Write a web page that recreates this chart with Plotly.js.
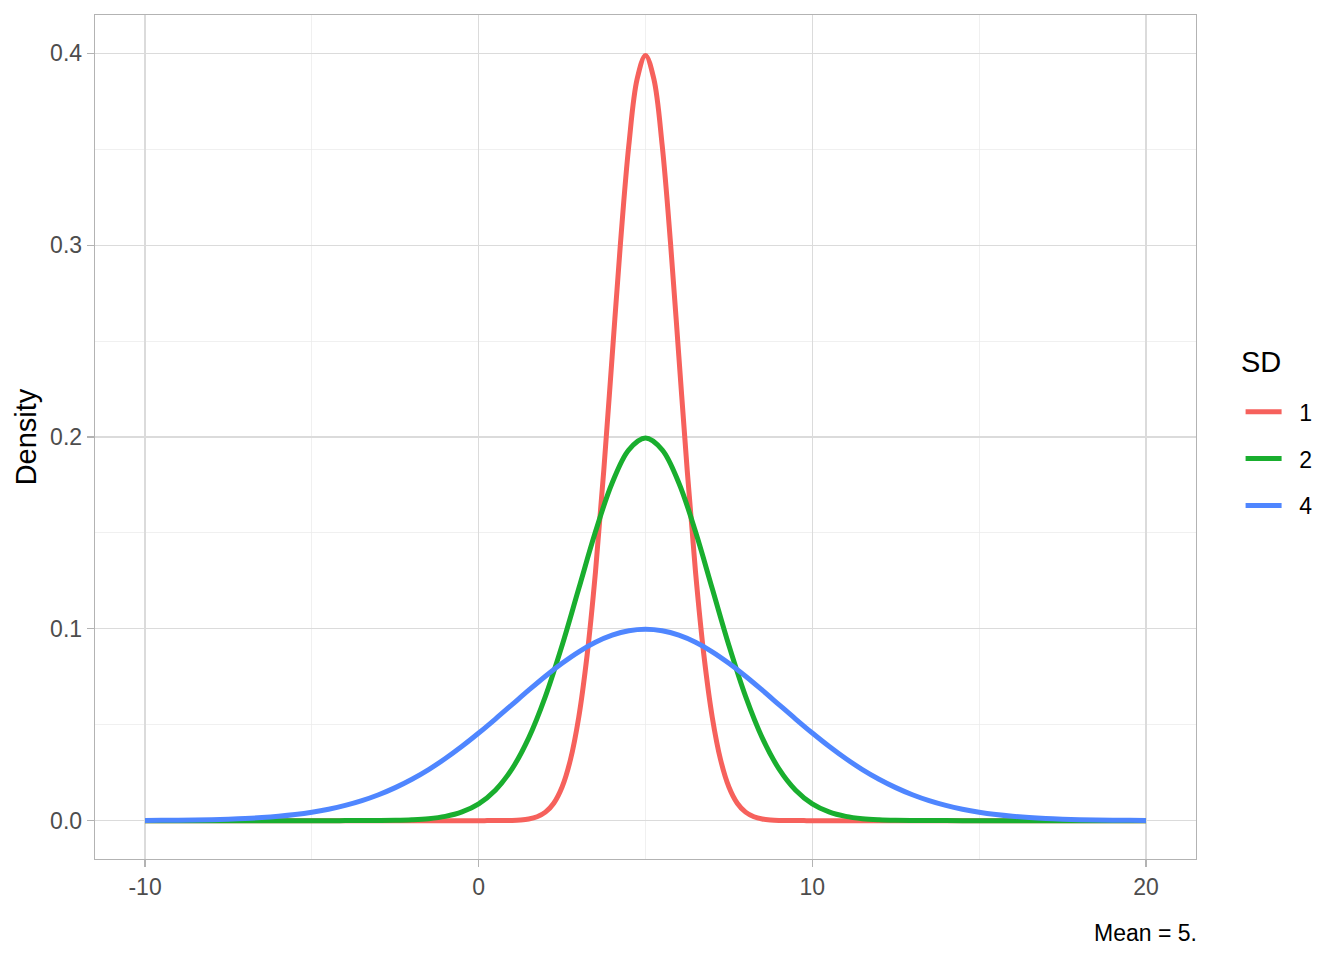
<!DOCTYPE html>
<html>
<head>
<meta charset="utf-8">
<script src="https://cdn.plot.ly/plotly-3.0.1.min.js"></script>
<style>
  html, body { margin: 0; padding: 0; background: #ffffff; }
  #chart { width: 1344px; height: 960px; }
</style>
</head>
<body>
<div id="chart"></div>
<script>
// x positions for the SD = 2 and SD = 4 series
const xValues = [
  -10, -9.5, -9, -8.5, -8, -7.5, -7, -6.5, -6, -5.5,
  -5, -4.5, -4, -3.5, -3, -2.5, -2, -1.5, -1, -0.5,
  0, 0.5, 1, 1.5, 2, 2.5, 3, 3.5, 4, 4.5,
  5, 5.5, 6, 6.5, 7, 7.5, 8, 8.5, 9, 9.5,
  10, 10.5, 11, 11.5, 12, 12.5, 13, 13.5, 14, 14.5,
  15, 15.5, 16, 16.5, 17, 17.5, 18, 18.5, 19, 19.5,
  20
];

// x positions for the narrow SD = 1 series (finer near the peak)
const xValuesSD1 = [
  -10, -5,
  0, 0.25, 0.5, 0.75, 1, 1.25, 1.5, 1.75, 2, 2.25,
  2.5, 2.75, 3, 3.25, 3.5, 3.75, 4, 4.25, 4.5, 4.75,
  5, 5.25, 5.5, 5.75, 6, 6.25, 6.5, 6.75, 7, 7.25,
  7.5, 7.75, 8, 8.25, 8.5, 8.75, 9, 9.25, 9.5, 9.75,
  10,
  15, 20
];

// SD = 1
const densitySD1 = [
  0, 0,
  0, 0.00001, 0.00002, 0.00005, 0.00013, 0.00035, 0.00087, 0.00203, 0.00443, 0.00909,
  0.01753, 0.03174, 0.05399, 0.08628, 0.12952, 0.18265, 0.24197, 0.30114, 0.35207, 0.38667,
  0.39894, 0.38667, 0.35207, 0.30114, 0.24197, 0.18265, 0.12952, 0.08628, 0.05399, 0.03174,
  0.01753, 0.00909, 0.00443, 0.00203, 0.00087, 0.00035, 0.00013, 0.00005, 0.00002, 0.00001,
  0,
  0, 0
];

// SD = 2
const densitySD2 = [
  0, 0, 0, 0, 0, 0, 0, 0, 0, 0,
  0, 0, 0.00001, 0.00002, 0.00007, 0.00018, 0.00044, 0.00101, 0.00222, 0.00455,
  0.00876, 0.01587, 0.02700, 0.04314, 0.06476, 0.09132, 0.12099, 0.15057, 0.17603, 0.19333,
  0.19947, 0.19333, 0.17603, 0.15057, 0.12099, 0.09132, 0.06476, 0.04314, 0.02700, 0.01587,
  0.00876, 0.00455, 0.00222, 0.00101, 0.00044, 0.00018, 0.00007, 0.00002, 0.00001, 0,
  0, 0, 0, 0, 0, 0, 0, 0, 0, 0,
  0
];

// SD = 4
const densitySD4 = [
  0.00009, 0.00014, 0.00022, 0.00034, 0.00051, 0.00076, 0.00111, 0.00160, 0.00227, 0.00318,
  0.00438, 0.00594, 0.00794, 0.01043, 0.01350, 0.01720, 0.02157, 0.02663, 0.03238, 0.03875,
  0.04566, 0.05297, 0.06049, 0.06801, 0.07529, 0.08204, 0.08802, 0.09296, 0.09667, 0.09896,
  0.09974, 0.09896, 0.09667, 0.09296, 0.08802, 0.08204, 0.07529, 0.06801, 0.06049, 0.05297,
  0.04566, 0.03875, 0.03238, 0.02663, 0.02157, 0.01720, 0.01350, 0.01043, 0.00794, 0.00594,
  0.00438, 0.00318, 0.00227, 0.00160, 0.00111, 0.00076, 0.00051, 0.00034, 0.00022, 0.00014,
  0.00009
];

const seriesNames = ['1', '2', '4'];
const seriesColors = ['#F6615C', '#19AE2E', '#4F86FF'];
const seriesX = [xValuesSD1, xValues, xValues];
const seriesData = [densitySD1, densitySD2, densitySD4];

const xTickVals = [-10, 0, 10, 20];
const xTickText = ['-10', '0', '10', '20'];
const yTickVals = [0, 0.1, 0.2, 0.3, 0.4];
const yTickText = ['0.0', '0.1', '0.2', '0.3', '0.4'];

const FONT = 'Liberation Sans, Arial, Helvetica, sans-serif';

const traces = seriesData.map((ys, i) => ({
  type: 'scatter',
  mode: 'lines',
  x: seriesX[i],
  y: ys,
  name: '\u00A0\u00A0' + seriesNames[i],
  legendgroup: 'g' + i,
  line: { color: seriesColors[i], width: 5, shape: 'spline', smoothing: 1 },
  hoverinfo: 'x+y+name'
}));

const layout = {
  width: 1344,
  height: 960,
  paper_bgcolor: '#ffffff',
  plot_bgcolor: '#ffffff',
  margin: { l: 95, r: 148, t: 15, b: 101, pad: 0 },
  font: { family: FONT, size: 23, color: '#4D4D4D' },
  showlegend: true,
  legend: {
    x: 1.0405, xanchor: 'left',
    y: 0.5554, yanchor: 'top',
    font: { family: FONT, size: 23, color: '#000000' },
    traceorder: 'grouped',
    tracegroupgap: 14,
    bgcolor: 'rgba(0,0,0,0)',
    itemwidth: 36
  },
  xaxis: {
    range: [-11.5, 21.5],
    tickvals: xTickVals,
    ticktext: xTickText,
    ticks: 'outside',
    ticklen: 7,
    tickwidth: 1.3,
    tickcolor: '#B3B3B3',
    tickfont: { family: FONT, size: 23, color: '#4D4D4D' },
    showgrid: true,
    gridcolor: '#DBDBDB',
    gridwidth: 1.3,
    minor: { dtick: 5, tick0: 0, showgrid: true, gridcolor: '#EAEAEA', gridwidth: 0.7, ticks: '' },
    zeroline: false,
    showline: true,
    linecolor: '#B3B3B3',
    linewidth: 1.3,
    mirror: true
  },
  yaxis: {
    range: [-0.02, 0.42],
    tickvals: yTickVals,
    ticktext: yTickText,
    ticks: 'outside',
    ticklen: 7,
    tickwidth: 1.3,
    tickcolor: '#B3B3B3',
    tickfont: { family: FONT, size: 23, color: '#4D4D4D' },
    showgrid: true,
    gridcolor: '#DBDBDB',
    gridwidth: 1.3,
    minor: { dtick: 0.05, tick0: 0, showgrid: true, gridcolor: '#EAEAEA', gridwidth: 0.7, ticks: '' },
    zeroline: false,
    showline: true,
    linecolor: '#B3B3B3',
    linewidth: 1.3,
    mirror: true,
    title: { text: 'Density', font: { family: FONT, size: 29, color: '#000000' }, standoff: 5 }
  },
  annotations: [
    {
      text: 'Mean = 5.',
      xref: 'paper', yref: 'paper',
      x: 1, xanchor: 'right', xshift: 3,
      y: -0.0877, yanchor: 'middle',
      showarrow: false,
      font: { family: FONT, size: 23, color: '#000000' }
    },
    {
      text: 'SD',
      xref: 'paper', yref: 'paper',
      x: 1.0405, xanchor: 'left', xshift: -2,
      y: 0.5889, yanchor: 'middle',
      showarrow: false,
      font: { family: FONT, size: 29, color: '#000000' }
    }
  ]
};

Plotly.newPlot('chart', traces, layout, { displayModeBar: false, staticPlot: true });
</script>
</body>
</html>
